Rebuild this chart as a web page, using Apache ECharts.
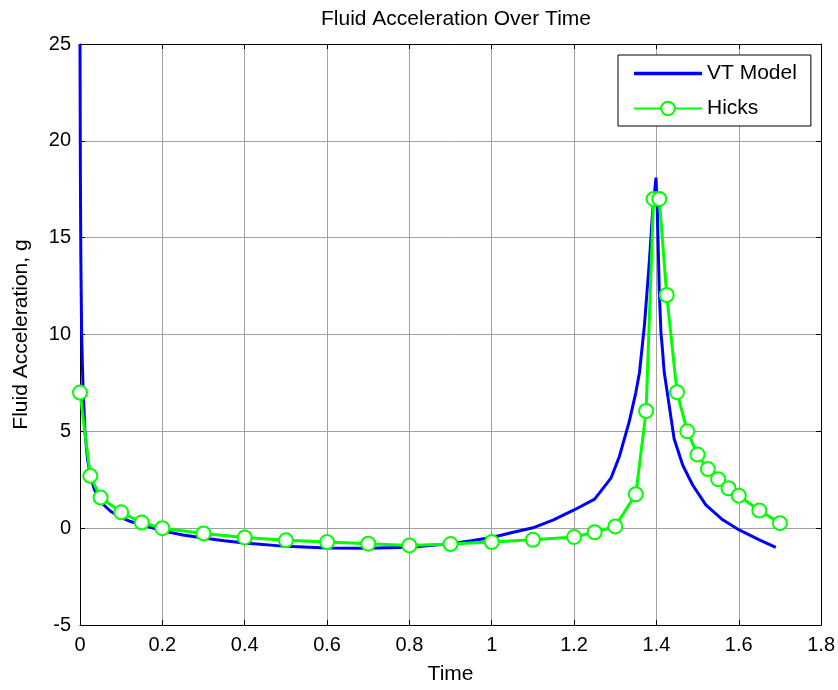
<!DOCTYPE html>
<html><head><meta charset="utf-8">
<script src="https://cdn.jsdelivr.net/npm/echarts@6/dist/echarts.min.js"></script>
<style>html,body{margin:0;padding:0;background:#fff}#c{width:838px;height:690px}</style>
</head><body><div id="c"></div>
<script>
var titleText = "Fluid Acceleration Over Time";
var xName = "Time";
var yName = "Fluid Acceleration, g";
var seriesNames = ["VT Model", "Hicks"];

var vtX = [0,0.001,0.002,0.004,0.007,0.012,0.018,0.025,0.035,0.05,0.075,0.1,0.125,0.15,0.2,0.25,0.3,0.35,0.4,0.5,0.6,0.7,0.8,0.9,0.95,1.0,1.05,1.1,1.15,1.2,1.25,1.29,1.31,1.334,1.35,1.359,1.371,1.383,1.391,1.399,1.402,1.405,1.407,1.411,1.414,1.419,1.431,1.443,1.464,1.488,1.52,1.561,1.601,1.65,1.69];
var vtY = [25,18,14,10,7.5,5,3.6,2.7,2.0,1.35,0.86,0.55,0.33,0.17,-0.14,-0.35,-0.51,-0.65,-0.77,-0.94,-1.03,-1.04,-0.98,-0.8,-0.65,-0.48,-0.22,0.02,0.43,0.94,1.5,2.6,3.7,5.5,7.0,8.05,10.5,13.8,16.4,18.1,16.5,14.0,12.2,10.1,9.4,8.05,6.34,4.62,3.25,2.23,1.2,0.43,-0.09,-0.6,-0.99];

var hicksX = [0,0.025,0.05,0.1,0.15,0.2,0.3,0.4,0.5,0.6,0.7,0.8,0.9,1.0,1.1,1.2,1.25,1.3,1.35,1.375,1.393,1.407,1.425,1.45,1.475,1.5,1.525,1.55,1.575,1.6,1.65,1.7];
var hicksY = [7.0,2.7,1.58,0.82,0.29,0,-0.27,-0.48,-0.63,-0.72,-0.8,-0.89,-0.82,-0.72,-0.6,-0.46,-0.21,0.09,1.75,6.05,17.0,17.0,12.04,7.02,5.0,3.8,3.05,2.53,2.06,1.68,0.91,0.26];

function zip(a,b){return a.map(function(v,i){return [v,b[i]];});}

var font = "Liberation Sans, Arial, sans-serif";
var chart = echarts.init(document.getElementById('c'), null, {renderer:'canvas'});
var tickStyle = {show:true, inside:true, length:5, lineStyle:{color:'#000', width:1}};
var gridLine = {show:true, lineStyle:{color:'#a0a0a0', width:1}};
chart.setOption({
  animation:false,
  backgroundColor:'#fff',
  title:{text:titleText, left:451, top:4, textAlign:'center',
    textStyle:{fontFamily:font, fontSize:21, fontWeight:'normal', color:'#000'}},
  legend:{
    data:[
      {name:seriesNames[0], icon:'path://M0,0 L68,0 L68,3.5 L0,3.5 Z'},
      {name:seriesNames[1]}
    ],
    orient:'vertical', left:618, top:55,
    itemWidth:68, itemHeight:17, itemGap:14,
    borderColor:'#000', borderWidth:1, borderRadius:0,
    padding:[8,14,7,15], backgroundColor:'#fff',
    textStyle:{fontFamily:font, fontSize:21, color:'#000'}
  },
  grid:{left:80, right:16, top:44, bottom:63, containLabel:false},
  xAxis:[{
    type:'value', min:0, max:1.8, interval:0.2,
    name:xName, nameLocation:'middle', nameGap:39,
    nameTextStyle:{fontFamily:font, fontSize:21, color:'#000'},
    axisLine:{show:true, onZero:false, lineStyle:{color:'#000', width:1}},
    axisTick:tickStyle,
    axisLabel:{fontFamily:font, fontSize:20, color:'#000', margin:10,
      formatter:function(v){return String(+v.toFixed(1));}},
    splitLine:gridLine
  },{
    type:'value', position:'top', min:0, max:1.8, interval:0.2,
    axisLine:{show:true, onZero:false, lineStyle:{color:'#000', width:1}},
    axisTick:tickStyle, axisLabel:{show:false}, splitLine:{show:false}
  }],
  yAxis:[{
    type:'value', min:-5, max:25, interval:5,
    name:yName, nameLocation:'middle', nameGap:48,
    nameTextStyle:{fontFamily:font, fontSize:21, color:'#000'},
    axisLine:{show:true, onZero:false, lineStyle:{color:'#000', width:1}},
    axisTick:tickStyle,
    axisLabel:{fontFamily:font, fontSize:20, color:'#000', margin:9},
    splitLine:gridLine
  },{
    type:'value', position:'right', min:-5, max:25, interval:5,
    axisLine:{show:true, onZero:false, lineStyle:{color:'#000', width:1}},
    axisTick:tickStyle, axisLabel:{show:false}, splitLine:{show:false}
  }],
  series:[{
    name:seriesNames[0], type:'line', data:zip(vtX,vtY),
    showSymbol:false, symbol:'none', clip:true,
    lineStyle:{color:'#0000ff', width:3}, itemStyle:{color:'#0000ff'}
  },{
    name:seriesNames[1], type:'line', data:zip(hicksX,hicksY),
    symbol:'emptyCircle', symbolSize:14, showAllSymbol:true,
    lineStyle:{color:'#00ff00', width:3},
    itemStyle:{color:'#00ff00', borderColor:'#00ff00', borderWidth:3}
  }]
});
</script></body></html>
